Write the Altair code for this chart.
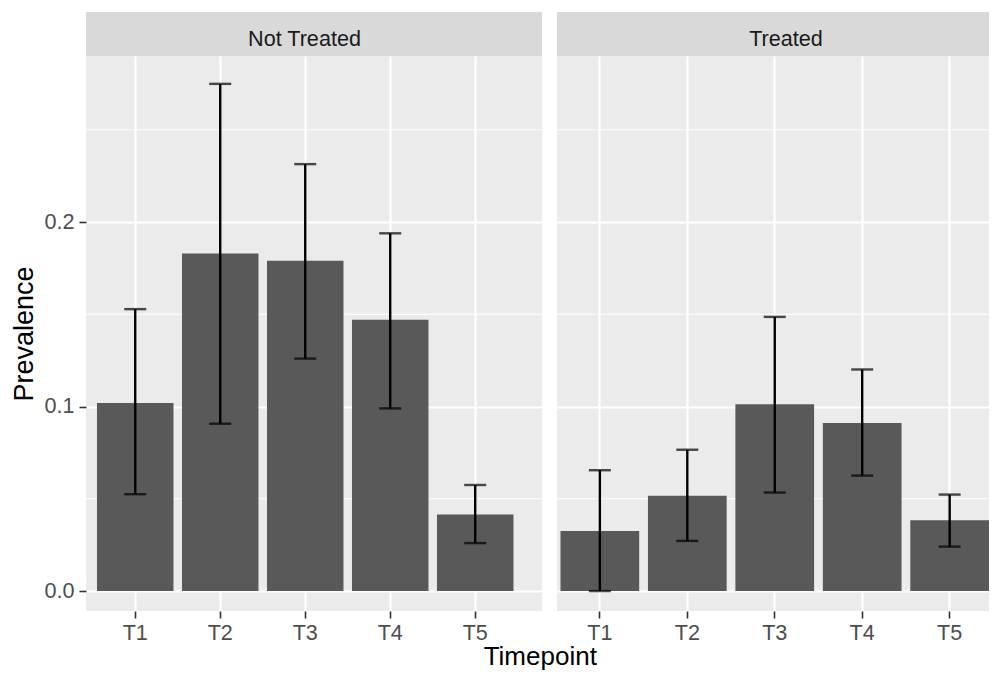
import altair as alt
import pandas as pd

# ---- data ----
timepoints = ["T1", "T2", "T3", "T4", "T5"]
groups = ["Not Treated", "Treated"]

prev_not_treated = [0.102, 0.183, 0.179, 0.147, 0.0415]
lower_not_treated = [0.0525, 0.0907, 0.126, 0.099, 0.026]
upper_not_treated = [0.1528, 0.2749, 0.2314, 0.1939, 0.0575]

prev_treated = [0.0325, 0.0516, 0.1012, 0.0911, 0.0384]
lower_treated = [0.0, 0.0272, 0.0534, 0.0626, 0.0241]
upper_treated = [0.0655, 0.0766, 0.1486, 0.1201, 0.0523]

y_major = [0.0, 0.1, 0.2]
y_minor = [0.05, 0.15, 0.25]
y_domain = [-0.0108, 0.29]

FONT = "Liberation Sans"
PANEL_H = 555
STRIP_H = 44


def panel(group, prev, lo, hi, width, pad_outer, align, show_y, strip_dx):
    df = pd.DataFrame({"Timepoint": timepoints, "Prevalence": prev, "lo": lo, "hi": hi})
    xscale = alt.Scale(domain=timepoints, paddingInner=0.1, paddingOuter=pad_outer, align=align)
    yscale = alt.Scale(domain=y_domain, nice=False, zero=False)
    xaxis = alt.Axis(
        title=None, bandPosition=0.5, grid=True, gridColor="white", gridWidth=2.2,
        domain=False, ticks=True, tickColor="#333333", tickWidth=1.6, tickSize=7,
        labelFont=FONT, labelFontSize=21.6, labelColor="#4D4D4D", labelPadding=4,
        labelAngle=0,
    )
    if show_y:
        yaxis = alt.Axis(
            title="Prevalence", values=y_major, format=".1f", grid=True,
            gridColor="white", gridWidth=2.2, domain=False, ticks=True,
            tickColor="#333333", tickWidth=1.6, tickSize=7,
            labelFont=FONT, labelFontSize=21.6, labelColor="#4D4D4D", labelPadding=5,
            titleFont=FONT, titleFontSize=27, titleFontWeight="normal",
            titleColor="black", titlePadding=5,
        )
    else:
        yaxis = alt.Axis(
            title=None, values=y_major, grid=True, gridColor="white", gridWidth=2.2,
            domain=False, ticks=False, labels=False,
        )

    X = alt.X("Timepoint:N", scale=xscale, axis=xaxis, sort=timepoints)

    minor = alt.Chart(pd.DataFrame({"v": y_minor})).mark_rule(
        color="white", strokeWidth=1.1
    ).encode(y=alt.Y("v:Q", scale=yscale, axis=yaxis))

    base = alt.Chart(df)
    bars = base.mark_bar(color="#595959").encode(
        x=X,
        y=alt.Y("Prevalence:Q", scale=yscale, axis=yaxis),
    )
    err = base.mark_rule(color="black", strokeWidth=2.4).encode(
        x=X,
        y=alt.Y("lo:Q", scale=yscale, axis=yaxis),
        y2="hi:Q",
    )
    cap_hi = base.mark_tick(color="black", size=22, thickness=2.4, orient="horizontal").encode(
        x=X,
        y=alt.Y("hi:Q", scale=yscale, axis=yaxis),
    )
    cap_lo = base.mark_tick(color="black", size=22, thickness=2.4, orient="horizontal").encode(
        x=X,
        y=alt.Y("lo:Q", scale=yscale, axis=yaxis),
    )
    plot = alt.layer(minor, bars, err, cap_hi, cap_lo).properties(
        width=width, height=PANEL_H,
        view=alt.ViewBackground(fill="#EBEBEB", stroke=None),
    )

    strip = alt.Chart(pd.DataFrame({"label": [group]})).mark_text(
        font=FONT, fontSize=21.6, color="#1A1A1A", baseline="alphabetic",
        dy=12, dx=strip_dx,
    ).encode(text="label:N").properties(
        width=width, height=STRIP_H,
        view=alt.ViewBackground(fill="#D9D9D9", stroke=None),
    )
    return alt.vconcat(strip, plot, spacing=0)


left = panel(groups[0], prev_not_treated, lower_not_treated, upper_not_treated,
             456, 0.2324, 0.278, True, -9.5)
right = panel(groups[1], prev_treated, lower_treated, upper_treated,
              432, 0.02, 1.0, False, 13)

chart = alt.hconcat(left, right, spacing=13).properties(
    title=alt.TitleParams(
        "Timepoint", orient="bottom", anchor="middle", font=FONT, fontSize=26,
        fontWeight="normal", color="black", offset=0, dx=40,
    ),
    padding={"left": 2, "top": 4, "right": 0, "bottom": 0},
    background="white",
).configure_view(stroke=None)

chart.save("out.html", embed_options={"renderer": "svg", "actions": False})
